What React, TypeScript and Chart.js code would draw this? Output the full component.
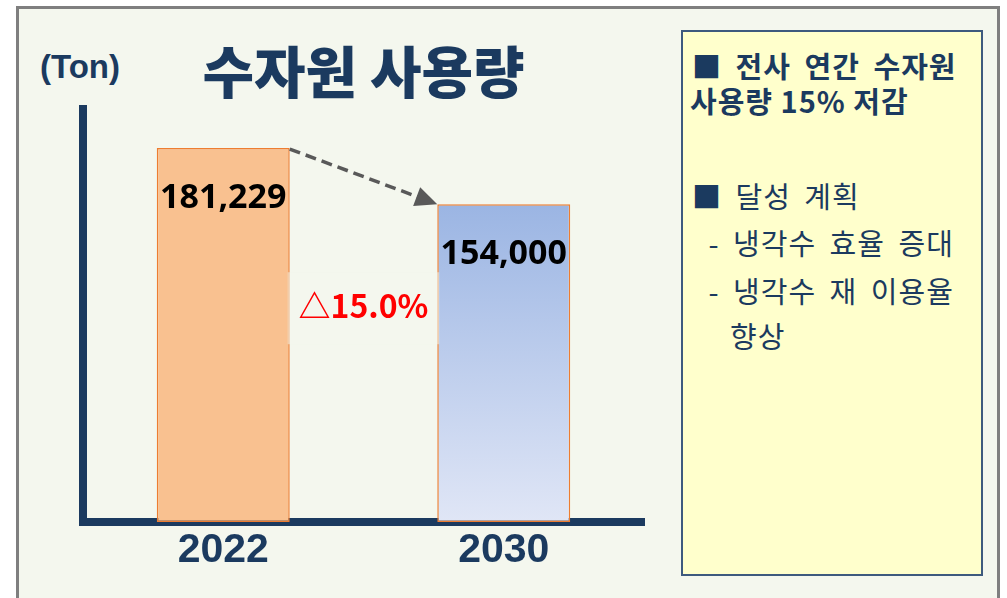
import React, { useEffect, useRef } from "react";
import { Chart, registerables } from "chart.js";

Chart.register(...registerables);

// ---- data ----
const categories: string[] = ["2022", "2030"];
const usageValues: number[] = [181229, 154000];
const yAxisMin = 0;
const yAxisMax = 200000;
const chartTitle = "수자원 사용량";
const unitLabel = "(Ton)";
const summaryHeadline: string[] = ["■ 전사 연간 수자원", "사용량 15% 저감"];
const planHeading = "■ 달성 계획";
const planItems: string[] = ["- 냉각수 효율 증대", "- 냉각수 재 이용율"];
const planItemTail = "향상";

const NAVY = "#1b3a5f";
const BG = "#f4f7ee";
const ORANGE_FILL = "#f9c190";
const ORANGE_LINE = "#ed7d31";

const annotationPlugin = {
  id: "annotations",
  afterDatasetsDraw(chart: any) {
    const ctx: CanvasRenderingContext2D = chart.ctx;
    const meta = chart.getDatasetMeta(0);
    const bars = meta.data;
    if (!bars || bars.length < 2) return;
    const p0 = bars[0].getProps(["x", "y", "width", "base"], true);
    const p1 = bars[1].getProps(["x", "y", "width", "base"], true);
    const values = chart.data.datasets[0].data as number[];
    ctx.save();

    // soft backdrop for change label (covers the bar outlines slightly)
    const leftEdge = p0.x + p0.width / 2 - 2;
    const rightEdge = p1.x - p1.width / 2 + 2;
    ctx.fillStyle = "rgba(244,247,238,0.5)";
    ctx.fillRect(leftEdge, p1.y + 68, rightEdge - leftEdge, 72);

    // dashed arrow
    const sx = p0.x + p0.width / 2;
    const sy = p0.y + 1;
    const ex = p1.x - p1.width / 2;
    const ey = p1.y;
    const ang = Math.atan2(ey - sy, ex - sx);
    const headLen = 22;
    const headHalf = 10;
    const bx = ex - Math.cos(ang) * headLen;
    const by = ey - Math.sin(ang) * headLen;
    ctx.strokeStyle = "#595959";
    ctx.fillStyle = "#595959";
    ctx.lineWidth = 3.5;
    ctx.setLineDash([11, 6]);
    ctx.beginPath();
    ctx.moveTo(sx, sy);
    ctx.lineTo(bx + Math.cos(ang) * 2, by + Math.sin(ang) * 2);
    ctx.stroke();
    ctx.setLineDash([]);
    ctx.beginPath();
    ctx.moveTo(ex, ey);
    ctx.lineTo(bx - Math.sin(ang) * headHalf, by + Math.cos(ang) * headHalf);
    ctx.lineTo(bx + Math.sin(ang) * headHalf, by - Math.cos(ang) * headHalf);
    ctx.closePath();
    ctx.fill();

    // value labels
    ctx.fillStyle = "#000000";
    ctx.font = "bold 34px 'Noto Sans', 'Open Sans', sans-serif";
    ctx.textAlign = "center";
    ctx.textBaseline = "middle";
    bars.forEach((b: any, i: number) => {
      const p = b.getProps(["x", "y"], true);
      ctx.fillText(values[i].toLocaleString("en-US"), p.x, p.y + 50);
    });

    // change label
    const pct = ((values[1] - values[0]) / values[0]) * 100;
    const txt = (pct < 0 ? "△" : "▲") + Math.abs(pct).toFixed(1) + "%";
    ctx.fillStyle = "#ff0000";
    ctx.font = "bold 32px 'Noto Sans CJK KR', 'Noto Sans', sans-serif";
    ctx.fillText(txt, (leftEdge + rightEdge) / 2, p1.y + 102);
    ctx.restore();
  },
};

export default function App() {
  const canvasRef = useRef<HTMLCanvasElement | null>(null);

  useEffect(() => {
    if (!canvasRef.current) return;
    const chart = new Chart(canvasRef.current, {
      type: "bar",
      data: {
        labels: categories,
        datasets: [
          {
            data: usageValues,
            backgroundColor: (c: any) => {
              if (c.dataIndex === 0) return ORANGE_FILL;
              const ch = c.chart;
              const area = ch.chartArea;
              if (!area || !ch.scales.y) return "#b4c7ea";
              const top = ch.scales.y.getPixelForValue(c.raw ?? usageValues[1]);
              const bottom = ch.scales.y.getPixelForValue(0);
              const g = ch.ctx.createLinearGradient(0, top, 0, bottom);
              g.addColorStop(0, "#9bb5e3");
              g.addColorStop(1, "#e0e6f6");
              return g;
            },
            borderColor: ORANGE_LINE,
            borderWidth: 1.5,
            borderSkipped: false,
            categoryPercentage: 1,
            barPercentage: 0.474,
          },
        ],
      },
      options: {
        animation: false,
        responsive: false,
        maintainAspectRatio: false,
        layout: { padding: { left: 83, right: 363, top: 0, bottom: 18 } },
        plugins: {
          legend: { display: false },
          tooltip: { enabled: false },
          title: {
            display: true,
            text: chartTitle,
            fullSize: false,
            color: NAVY,
            font: { size: 56, weight: "900", family: "'Noto Sans CJK KR', sans-serif", lineHeight: 1.2 },
            padding: { top: 38.5, bottom: 3.6 },
          },
        },
        scales: {
          x: {
            type: "category",
            z: 1,
            grid: { display: false, drawTicks: false },
            border: { display: true, width: 8, color: NAVY },
            ticks: {
              color: NAVY,
              padding: 4.4,
              font: { size: 41, weight: "bold", family: "'Liberation Sans', Arial, sans-serif", lineHeight: 1.2 },
            },
          },
          y: {
            min: yAxisMin,
            max: yAxisMax,
            z: 1,
            grid: { display: false, drawTicks: false },
            border: { display: true, width: 8, color: NAVY },
            ticks: { display: false },
          },
        },
      },
      plugins: [annotationPlugin],
    } as any);
    return () => chart.destroy();
  }, []);

  const boxFont = "'Noto Sans CJK KR', sans-serif";
  const line = (text: string, left: number, center: number, bold: boolean, wordSpacing = 6) => (
    <div
      style={{
        position: "absolute",
        left,
        top: center - 15,
        height: 30,
        lineHeight: "30px",
        fontSize: 29,
        letterSpacing: 1,
        wordSpacing,
        fontWeight: bold ? 700 : 400,
        fontFamily: boxFont,
        color: NAVY,
        whiteSpace: "pre",
      }}
    >
      {text}
    </div>
  );

  return (
    <div style={{ position: "absolute", left: 0, top: 0, width: 1007, height: 598, overflow: "hidden", background: "#ffffff" }}>
      <div
        style={{
          position: "absolute",
          left: 16,
          top: 6,
          width: 984,
          height: 620,
          background: BG,
          border: "3px solid #7f7f7f",
          boxSizing: "border-box",
        }}
      />
      <div
        style={{
          position: "absolute",
          left: 40,
          top: 50,
          fontSize: 33,
          fontWeight: 700,
          fontFamily: "'Liberation Sans', Arial, sans-serif",
          color: NAVY,
          lineHeight: "34px",
        }}
      >
        {unitLabel}
      </div>
      <canvas ref={canvasRef} width={1007} height={598} style={{ position: "absolute", left: 0, top: 0, width: 1007, height: 598 }} />
      <div
        style={{
          position: "absolute",
          left: 681,
          top: 30,
          width: 302,
          height: 546,
          background: "#ffffcc",
          border: "2px solid #3e5a7e",
          boxSizing: "border-box",
        }}
      />
      {line(summaryHeadline[0], 692, 65, true)}
      {line(summaryHeadline[1], 690, 100, true, 0)}
      {line(planHeading, 692, 195, false)}
      {line(" " + planItems[0], 695, 242, false)}
      {line(" " + planItems[1], 695, 290, false)}
      {line(planItemTail, 730, 335, false)}
    </div>
  );
}
